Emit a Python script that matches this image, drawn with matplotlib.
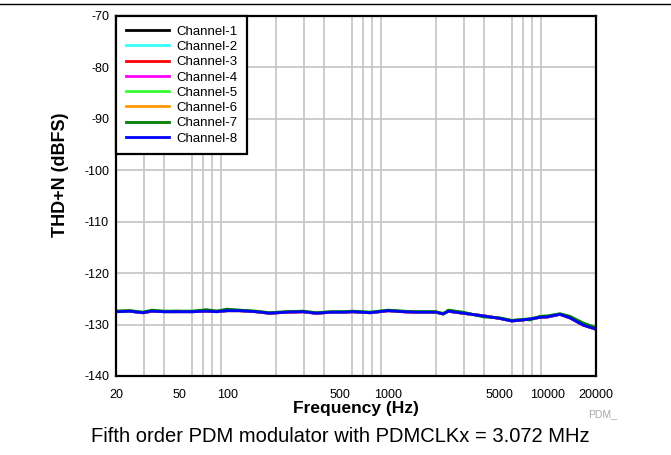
import matplotlib
matplotlib.use("Agg")
import matplotlib.pyplot as plt
from matplotlib.ticker import FixedLocator, NullFormatter, FixedFormatter
from matplotlib.lines import Line2D

plt.rcParams['font.family'] = ['Liberation Sans', 'DejaVu Sans']

# frequency points (Hz), shared by all channels
freq = [20, 24.5, 29.4, 33.5, 40, 47.8, 60, 73.6, 85, 98.9, 118.6, 150, 183, 230, 294,
        357, 440, 532, 602, 774, 1007, 1250, 1515, 2000, 2220, 2390, 2966, 3950, 5000,
        5944, 7000, 7740, 8930, 10000, 11900, 13760, 16640, 20000]

# THD+N (dBFS) per channel
ch1 = [-127.5, -127.4, -127.7, -127.4, -127.5, -127.5, -127.5, -127.4, -127.5, -127.3, -127.3, -127.5,
       -127.8, -127.6, -127.5, -127.8, -127.6, -127.6, -127.5, -127.7, -127.3, -127.5, -127.6, -127.6,
       -127.9, -127.4, -127.8, -128.3, -128.8, -129.3, -129.1, -128.9, -128.6, -128.5, -128.0, -128.7,
       -130.1, -130.9]
ch2 = [-127.5, -127.5, -127.6, -127.4, -127.5, -127.5, -127.4, -127.4, -127.5, -127.3, -127.3, -127.5,
       -127.7, -127.6, -127.5, -127.7, -127.6, -127.6, -127.5, -127.6, -127.3, -127.5, -127.6, -127.6,
       -127.8, -127.4, -127.8, -128.3, -128.8, -129.3, -129.0, -128.9, -128.6, -128.4, -128.0, -128.6,
       -130.0, -130.8]
ch3 = [-127.4, -127.4, -127.7, -127.4, -127.5, -127.4, -127.5, -127.4, -127.4, -127.3, -127.3, -127.5,
       -127.8, -127.6, -127.5, -127.8, -127.6, -127.6, -127.5, -127.7, -127.3, -127.5, -127.6, -127.6,
       -127.9, -127.4, -127.8, -128.3, -128.8, -129.2, -129.1, -128.9, -128.6, -128.5, -128.0, -128.7,
       -130.1, -130.9]
ch4 = [-127.5, -127.4, -127.7, -127.4, -127.5, -127.5, -127.5, -127.4, -127.5, -127.3, -127.3, -127.5,
       -127.8, -127.6, -127.5, -127.8, -127.6, -127.6, -127.5, -127.7, -127.3, -127.5, -127.6, -127.6,
       -127.9, -127.4, -127.8, -128.3, -128.8, -129.3, -129.1, -128.9, -128.6, -128.5, -128.0, -128.7,
       -130.1, -130.9]
ch5 = [-127.4, -127.3, -127.6, -127.3, -127.4, -127.4, -127.4, -127.2, -127.4, -127.1, -127.2, -127.4,
       -127.7, -127.5, -127.4, -127.7, -127.5, -127.5, -127.4, -127.6, -127.2, -127.4, -127.5, -127.5,
       -127.8, -127.2, -127.7, -128.4, -128.7, -129.2, -129.0, -128.8, -128.5, -128.4, -127.9, -128.5,
       -129.8, -130.7]
ch6 = [-127.5, -127.4, -127.7, -127.4, -127.5, -127.5, -127.5, -127.4, -127.5, -127.3, -127.3, -127.5,
       -127.8, -127.6, -127.5, -127.8, -127.6, -127.6, -127.5, -127.7, -127.3, -127.5, -127.6, -127.6,
       -127.9, -127.4, -127.8, -128.3, -128.8, -129.3, -129.1, -128.9, -128.6, -128.5, -128.0, -128.7,
       -130.1, -130.9]
ch7 = [-127.4, -127.3, -127.6, -127.2, -127.4, -127.4, -127.4, -127.1, -127.4, -127.0, -127.2, -127.4,
       -127.7, -127.5, -127.4, -127.7, -127.5, -127.5, -127.4, -127.6, -127.2, -127.4, -127.5, -127.5,
       -128.0, -127.2, -127.6, -128.5, -128.7, -129.2, -129.0, -129.1, -128.4, -128.3, -127.9, -128.4,
       -129.7, -130.6]
ch8 = [-127.5, -127.4, -127.7, -127.4, -127.5, -127.5, -127.5, -127.4, -127.5, -127.3, -127.3, -127.5,
       -127.8, -127.6, -127.5, -127.8, -127.6, -127.6, -127.5, -127.7, -127.3, -127.5, -127.6, -127.6,
       -127.9, -127.4, -127.8, -128.3, -128.8, -129.3, -129.1, -128.9, -128.6, -128.5, -128.0, -128.7,
       -130.1, -130.9]

names = ["Channel-1", "Channel-2", "Channel-3", "Channel-4",
         "Channel-5", "Channel-6", "Channel-7", "Channel-8"]
series = [ch1, ch2, ch3, ch4, ch5, ch6, ch7, ch8]
colors = ["#000000", "#33FFFF", "#FF0000", "#FF00FF",
          "#33FF33", "#FF9900", "#007F00", "#0000FF"]

xticks = [20, 50, 100, 500, 1000, 5000, 10000, 20000]
yticks = [-70, -80, -90, -100, -110, -120, -130, -140]

fig = plt.figure(figsize=(6.71, 4.55), dpi=100)
ax = fig.add_axes([116 / 671, 1 - 376 / 455, 480 / 671, 360 / 455])

for name, vals, col in zip(names, series, colors):
    ax.plot(freq, vals, color=col, lw=2.0, label=name)

ax.set_xscale("log")
ax.set_xlim(20, 20000)
ax.set_ylim(-140, -70)

grid_x = [v * m for m in (10, 100, 1000) for v in range(2, 10)] + [10000, 20000]
grid_x = [g for g in grid_x if g > 20 and g < 20000]
ax.xaxis.set_major_locator(FixedLocator(xticks))
ax.xaxis.set_major_formatter(FixedFormatter([str(t) for t in xticks]))
ax.xaxis.set_minor_locator(FixedLocator(grid_x))
ax.xaxis.set_minor_formatter(NullFormatter())
ax.set_yticks(yticks)
ax.set_yticklabels([str(t) for t in yticks])

ax.grid(True, which="minor", axis="x", color="#C8C8C8", lw=1.3)
ax.grid(True, which="major", axis="y", color="#C8C8C8", lw=1.3)
ax.set_axisbelow(True)
ax.tick_params(which="both", length=0, labelsize=9)
ax.tick_params(axis="x", pad=9)
ax.tick_params(axis="y", pad=5)

for sp in ax.spines.values():
    sp.set_linewidth(1.6)

ax.set_xlabel("Frequency (Hz)", fontsize=12.5, fontweight="bold", labelpad=0)
ax.set_ylabel("THD+N (dBFS)", fontsize=13, fontweight="bold")
ax.yaxis.set_label_coords(-0.098, 0.56)

leg = ax.legend(loc="upper left", fontsize=9.5, frameon=True, fancybox=False,
                borderaxespad=0, handlelength=3.3, handletextpad=0.58,
                labelspacing=0.23, borderpad=0.72, framealpha=1)
leg.get_frame().set_edgecolor("black")
leg.get_frame().set_linewidth(1.6)

fig.add_artist(Line2D([0, 1], [1 - 3.5 / 455, 1 - 3.5 / 455], color="black", lw=1.0))
fig.text(588 / 671, 1 - 414 / 455, "PDM_", fontsize=7.5, color="#A8A8A8",
         ha="left", va="center")
fig.text(340 / 671, 1 - 436 / 455, "Fifth order PDM modulator with PDMCLKx = 3.072 MHz",
         fontsize=14.5, ha="center", va="center")

fig.savefig("out.png", dpi=100)
